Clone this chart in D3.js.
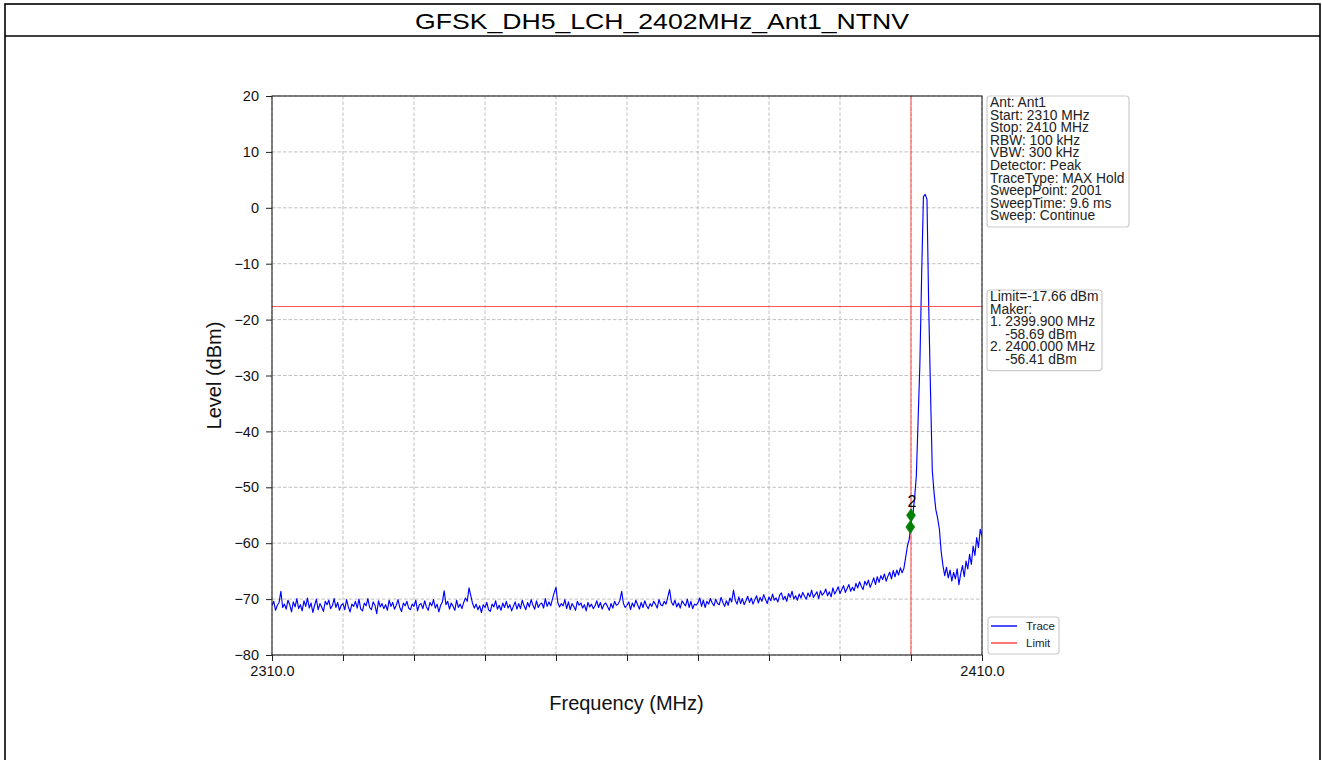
<!DOCTYPE html>
<html><head><meta charset="utf-8">
<script src="https://cdn.jsdelivr.net/npm/d3@7"></script>
<style>
html,body{margin:0;padding:0;background:#fff;}
svg{display:block;font-family:"Liberation Sans",Arial,sans-serif;}
</style></head>
<body><svg id="c" width="1322" height="760"></svg>
<script>
const title = "GFSK_DH5_LCH_2402MHz_Ant1_NTNV";
const freqStart = 2310, freqStop = 2410, freqStep = 0.25;
const yTicks = [20, 10, 0, -10, -20, -30, -40, -50, -60, -70, -80];
const xTicks = [2310, 2320, 2330, 2340, 2350, 2360, 2370, 2380, 2390, 2400, 2410];
const xTickLabels = ["2310.0", "", "", "", "", "", "", "", "", "", "2410.0"];
const limitLevel = -17.66;
const markerLineFreq = 2400;
const markerFreqs = [2399.9, 2400.0];
const markerLevels = [-57.1, -55.0];
const markerLabel = "2";
const infoLines = ["Ant: Ant1","Start: 2310 MHz","Stop: 2410 MHz","RBW: 100 kHz","VBW: 300 kHz","Detector: Peak","TraceType: MAX Hold","SweepPoint: 2001","SweepTime: 9.6 ms","Sweep: Continue"];
const markerLines = ["Limit=-17.66 dBm","Maker:","1. 2399.900 MHz","    -58.69 dBm","2. 2400.000 MHz","    -56.41 dBm"];
const legendNames = ["Trace","Limit"];
const legendColors = ["#0000ff","#ff3b3b"];
// trace levels, one every 0.25 MHz from 2310 to 2410
const levels = [
-71.2,-70.4,-72.0,-71.1, -70.6,-68.6,-71.5,-70.9, -71.8,-70.2,-71.0,-72.3, -70.5,-71.4,-69.9,-71.7,
-71.0,-72.1,-70.3,-71.3, -69.8,-71.6,-70.7,-72.4, -71.1,-70.0,-71.9,-70.8, -71.4,-72.2,-70.4,-71.0,
-70.2,-71.7,-71.2,-69.9, -71.5,-70.6,-72.0,-71.1, -70.8,-71.9,-70.1,-71.4, -72.3,-70.9,-71.3,-70.4,
-71.6,-70.0,-71.8,-72.1, -70.7,-71.2,-69.9,-71.5, -71.9,-70.5,-71.1,-72.6, -70.3,-71.4,-70.8,-71.7,
-71.0,-72.0,-70.2,-71.3, -70.6,-71.8,-71.1,-70.1, -71.5,-72.2,-70.7,-71.2, -70.4,-71.6,-71.9,-70.9,
-71.3,-70.2,-72.1,-71.0, -70.8,-71.7,-70.3,-71.4, -72.0,-70.6,-71.2,-70.1, -71.6,-70.9,-72.3,-71.1,
-70.5,-68.5,-71.0,-70.4, -71.8,-70.7,-71.3,-72.0, -70.2,-71.5,-70.9,-71.7, -70.6,-69.8,-70.4,-68.0,
-69.4,-70.8,-71.6,-70.9, -71.9,-71.2,-72.4,-71.0, -71.5,-70.6,-71.9,-72.2, -70.9,-71.4,-70.3,-71.8,
-71.1,-72.0,-70.7,-71.5, -70.4,-71.6,-71.0,-72.1, -71.3,-70.5,-71.8,-70.8, -71.7,-70.2,-71.2,-71.9,
-70.6,-71.4,-70.1,-71.1, -71.8,-70.3,-71.5,-70.9, -70.7,-71.6,-69.9,-71.3, -70.5,-71.2,-70.0,-68.8,
-67.9,-70.6,-71.4,-70.8, -71.2,-70.1,-71.7,-70.5, -71.9,-70.8,-71.3,-72.0, -70.4,-71.1,-70.7,-71.6,
-71.0,-72.1,-70.6,-71.4, -70.9,-71.7,-71.2,-70.3, -71.5,-70.6,-71.8,-71.0, -70.7,-71.3,-72.0,-70.8,
-71.6,-70.4,-71.1,-70.9, -70.2,-68.6,-70.8,-71.5, -71.1,-70.5,-71.9,-70.7, -71.4,-70.2,-71.0,-71.8,
-70.6,-71.5,-70.3,-71.2, -71.7,-70.8,-71.3,-70.4, -70.9,-71.6,-70.1,-71.0, -71.2,-70.4,-70.9,-69.6,
-68.3,-70.5,-71.1,-70.2, -71.4,-70.7,-71.6,-70.3, -70.8,-71.2,-70.0,-71.5, -70.4,-71.7,-70.9,-71.1,
-70.6,-69.8,-71.3,-70.2, -71.5,-70.4,-70.9,-69.9, -70.7,-71.2,-70.0,-70.8, -71.0,-69.7,-70.6,-71.3,
-70.3,-71.1,-69.8,-70.5, -68.4,-70.2,-70.9,-69.6, -70.8,-69.9,-71.0,-70.3, -69.5,-70.6,-69.8,-70.9,
-70.1,-69.4,-70.7,-69.7, -70.4,-69.2,-70.0,-70.8, -69.6,-70.3,-69.1,-70.2, -69.8,-70.5,-69.3,-68.9,
-70.1,-69.5,-70.4,-69.0, -69.7,-68.6,-70.0,-69.4, -70.2,-69.1,-69.8,-68.8, -69.5,-70.0,-68.9,-69.6,
-68.4,-69.7,-69.2,-68.7, -69.9,-68.5,-69.3,-68.9, -68.2,-69.4,-68.7,-69.6, -68.0,-69.1,-68.5,-67.8,
-69.0,-68.3,-67.6,-68.8, -68.1,-67.4,-68.6,-67.9, -68.5,-67.2,-68.0,-66.9, -67.7,-68.3,-66.8,-67.5,
-66.6,-67.9,-67.1,-66.2, -67.4,-66.0,-67.0,-65.8, -66.5,-65.5,-66.8,-65.9, -65.2,-66.4,-64.9,-66.0,
-64.8,-65.7,-64.4,-65.3,
-64.5,-62.5,-60.5,-59.3, -56.4,-55.0,-52.0,-48.0, -38.0,-28.0,-12.0,2.0,
2.4,1.5,-18.0,-33.0, -47.0,-51.0,-54.0,-55.5, -57.5,-61.5,-64.0,-65.8,
-64.3,-66.2,-64.8,-66.8, -65.2,-66.4,-64.6,-67.4, -65.5,-64.0,-66.0,-63.2,
-64.6,-62.0,-63.8,-60.5, -62.2,-59.0,-60.8,-57.5, -58.8
];

const svg = d3.select("#c");
const m = {left: 272, right: 982, top: 96, bottom: 655};

// outer frame
svg.append("rect").attr("x", 5).attr("y", 4).attr("width", 1315).attr("height", 800)
  .attr("fill", "none").attr("stroke", "#000").attr("stroke-width", 1.6);
svg.append("line").attr("x1", 5).attr("x2", 1320).attr("y1", 36).attr("y2", 36)
  .attr("stroke", "#000").attr("stroke-width", 1.6);
svg.append("text").attr("x", 662).attr("y", 29).attr("text-anchor", "middle")
  .attr("font-size", 22).attr("fill", "#000")
  .attr("textLength", 494).attr("lengthAdjust", "spacingAndGlyphs").text(title);

const x = d3.scaleLinear().domain([freqStart, freqStop]).range([m.left, m.right]);
const y = d3.scaleLinear().domain([-80, 20]).range([m.bottom, m.top]);

// grid
const grid = svg.append("g").attr("stroke", "#b0b0b0").attr("stroke-width", 0.8).attr("stroke-dasharray", "3.5,2");
grid.selectAll(".gx").data(xTicks).join("line")
  .attr("x1", d => x(d)).attr("x2", d => x(d)).attr("y1", m.top).attr("y2", m.bottom);
grid.selectAll(".gy").data(yTicks).join("line")
  .attr("y1", d => y(d)).attr("y2", d => y(d)).attr("x1", m.left).attr("x2", m.right);

// trace
const data = levels.map((v, i) => [freqStart + i * freqStep, v]);
svg.append("clipPath").attr("id", "plotclip").append("rect")
  .attr("x", m.left).attr("y", m.top).attr("width", m.right - m.left).attr("height", m.bottom - m.top);
svg.append("path").datum(data).attr("clip-path", "url(#plotclip)")
  .attr("fill", "none").attr("stroke", legendColors[0]).attr("stroke-width", 1.15)
  .attr("stroke-linejoin", "round")
  .attr("d", d3.line().x(d => x(d[0])).y(d => y(d[1])));

// limit lines
svg.append("line").attr("x1", m.left).attr("x2", m.right).attr("y1", y(limitLevel)).attr("y2", y(limitLevel))
  .attr("stroke", legendColors[1]).attr("stroke-width", 1.1).attr("opacity", 0.85);
svg.append("line").attr("x1", x(markerLineFreq)).attr("x2", x(markerLineFreq)).attr("y1", m.top).attr("y2", m.bottom)
  .attr("stroke", legendColors[1]).attr("stroke-width", 1.1).attr("opacity", 0.85);

// markers
const mk = svg.append("g");
markerFreqs.forEach((f, i) => {
  const cx = x(f), cy = y(markerLevels[i]);
  mk.append("path").attr("d", `M${cx},${cy-6.5}L${cx+4.5},${cy}L${cx},${cy+6.5}L${cx-4.5},${cy}Z`)
    .attr("fill", "#008000").attr("stroke", "#008000").attr("stroke-width", 0.6);
});
mk.append("text").attr("x", x(markerFreqs[1]) + 1).attr("y", y(markerLevels[1]) - 8)
  .attr("text-anchor", "middle").attr("font-size", 16).attr("fill", "#000").text(markerLabel);

// axes
const minus = s => String(s).replace("-", "\u2212");
const yAxis = d3.axisLeft(y).tickValues(yTicks).tickSize(6).tickPadding(7).tickFormat(d => minus(d));
const xAxis = d3.axisBottom(x).tickValues(xTicks).tickSize(6).tickPadding(5).tickFormat((d, i) => xTickLabels[i]);
const gy = svg.append("g").attr("transform", `translate(${m.left},0)`).call(yAxis);
const gx = svg.append("g").attr("transform", `translate(0,${m.bottom})`).call(xAxis);
[gx, gy].forEach(g => {
  g.select(".domain").remove();
  g.selectAll("line").attr("stroke", "#222").attr("stroke-width", 1);
  g.selectAll("text").attr("font-size", 14.5).attr("fill", "#111").attr("font-family", '"Liberation Sans",Arial,sans-serif');
});
svg.append("rect").attr("x", m.left).attr("y", m.top).attr("width", m.right - m.left).attr("height", m.bottom - m.top)
  .attr("fill", "none").attr("stroke", "#222").attr("stroke-width", 1.1);

// axis labels
svg.append("text").attr("x", (m.left + m.right) / 2 - 0.5).attr("y", 710).attr("text-anchor", "middle")
  .attr("font-size", 20).attr("fill", "#111").text("Frequency (MHz)");
svg.append("text").attr("transform", `translate(221,${(m.top + m.bottom) / 2}) rotate(-90)`)
  .attr("text-anchor", "middle").attr("font-size", 20).attr("fill", "#111").text("Level (dBm)");

// info boxes
function infoBox(x0, y0, w, lines, lh, fs) {
  const h = lines.length * lh + 5;
  svg.append("rect").attr("x", x0).attr("y", y0).attr("width", w).attr("height", h).attr("rx", 3)
    .attr("fill", "#fff").attr("fill-opacity", 0.85).attr("stroke", "#cccccc").attr("stroke-width", 1.2);
  svg.append("g").selectAll("text").data(lines).join("text")
    .attr("x", x0 + 3).attr("y", (d, i) => y0 + 11 + i * lh)
    .attr("font-size", fs).attr("fill", "#222")
    .style("white-space", "pre").text(d => d);
}
infoBox(m.right + 5, m.top, 142, infoLines, 12.6, 13.8);
infoBox(m.right + 5, 290, 115, markerLines, 12.6, 13.8);

// legend
const lg = svg.append("g");
lg.append("rect").attr("x", 988).attr("y", 617).attr("width", 71).attr("height", 37).attr("rx", 3)
  .attr("fill", "#fff").attr("stroke", "#cccccc").attr("stroke-width", 1.2);
legendNames.forEach((n, i) => {
  const ly = 626 + i * 17;
  lg.append("line").attr("x1", 991).attr("x2", 1017).attr("y1", ly).attr("y2", ly)
    .attr("stroke", legendColors[i]).attr("stroke-width", 1.4);
  lg.append("text").attr("x", 1026).attr("y", ly + 4).attr("font-size", 11.5).attr("fill", "#222").text(n);
});
</script></body></html>
